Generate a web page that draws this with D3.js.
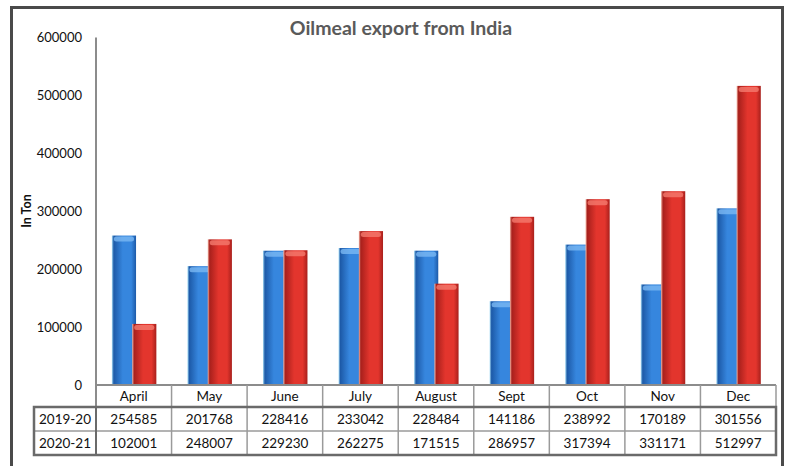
<!DOCTYPE html>
<html>
<head>
<meta charset="utf-8">
<script src="https://cdn.jsdelivr.net/npm/d3@7"></script>
<style>
  html, body { margin: 0; padding: 0; background: #fff; }
  svg { display: block; font-family: Lato, "Open Sans", "Liberation Sans", sans-serif; }
</style>
</head>
<body>
<svg id="chart" width="789" height="466"></svg>
<script>
// Oilmeal exports from India, tonnes per month
const months = ["April", "May", "June", "July", "August", "Sept", "Oct", "Nov", "Dec"];
const seriesNames = ["2019-20", "2020-21"];
const values2019 = [254585, 201768, 228416, 233042, 228484, 141186, 238992, 170189, 301556];
const values2020 = [102001, 248007, 229230, 262275, 171515, 286957, 317394, 331171, 512997];
const yTicks = [0, 100000, 200000, 300000, 400000, 500000, 600000];

const series = [
  { name: seriesNames[0], values: values2019, dark: "#1d5aa8", mid: "#3686de", light: "#7ab8f2", edge: "#a8dcf5" },
  { name: seriesNames[1], values: values2020, dark: "#a8201c", mid: "#e3352d", light: "#f47a6e", edge: "#f4b8a8" }
];

const svg = d3.select("#chart");
const plotLeft = 96, plotRight = 776, plotTop = 37.5, plotBottom = 385;

const x = d3.scaleBand().domain(months).range([plotLeft, plotRight]).padding(0);
const y = d3.scaleLinear().domain([0, 600000]).range([plotBottom, plotTop]);

// outer frame
svg.append("rect")
  .attr("x", 11.5).attr("y", 7.5)
  .attr("width", 771).attr("height", 480)
  .attr("fill", "none").attr("stroke", "#4a4a4a").attr("stroke-width", 3);

// title
svg.append("text")
  .attr("x", 401).attr("y", 35)
  .attr("text-anchor", "middle")
  .attr("font-size", 19.5).attr("font-weight", "bold")
  .attr("fill", "#5a5a5a")
  .text("Oilmeal export from India");

// y-axis title
svg.append("text")
  .attr("transform", "translate(31,211) rotate(-90)")
  .attr("text-anchor", "middle")
  .attr("font-size", 12.5).attr("font-weight", "bold")
  .attr("fill", "#111")
  .text("In Ton");

// y tick labels
svg.append("g").selectAll("text").data(yTicks).join("text")
  .attr("x", 82).attr("y", d => y(d)).attr("dy", "0.35em")
  .attr("text-anchor", "end").attr("font-size", 13).attr("fill", "#111")
  .text(d => d);

// cylinder-like gradients for each series
const defs = svg.append("defs");
series.forEach((s, i) => {
  const g = defs.append("linearGradient").attr("id", "grad" + i)
    .attr("x1", "0%").attr("x2", "100%").attr("y1", "0%").attr("y2", "0%");
  g.append("stop").attr("offset", "0%").attr("stop-color", s.edge);
  g.append("stop").attr("offset", "8%").attr("stop-color", s.dark);
  g.append("stop").attr("offset", "45%").attr("stop-color", s.mid);
  g.append("stop").attr("offset", "80%").attr("stop-color", s.mid);
  g.append("stop").attr("offset", "100%").attr("stop-color", s.dark);
});

// bars
const bw = x.bandwidth() * 0.32;
const offsets = [x.bandwidth() * 0.21, x.bandwidth() * 0.21 + bw * 0.84];
series.forEach((s, i) => {
  const g = svg.append("g");
  const rows = months.map((m, j) => ({ m, v: s.values[j] }));
  g.selectAll("rect.bar").data(rows).join("rect")
    .attr("class", "bar")
    .attr("x", d => x(d.m) + offsets[i])
    .attr("y", d => y(d.v) - 2)
    .attr("width", bw)
    .attr("height", d => y(0) - y(d.v) + 2)
    .attr("fill", `url(#grad${i})`);
  // highlight cap at the top of each bar
  g.selectAll("rect.cap").data(rows).join("rect")
    .attr("class", "cap")
    .attr("x", d => x(d.m) + offsets[i] + 2)
    .attr("y", d => y(d.v) - 1)
    .attr("width", bw - 4)
    .attr("height", 5)
    .attr("rx", 2.5)
    .attr("fill", s.light).attr("opacity", 0.8);
});

// axis lines
svg.append("line").attr("x1", plotLeft).attr("x2", plotLeft).attr("y1", plotTop).attr("y2", 455)
  .attr("stroke", "#8c8c8c").attr("stroke-width", 2);
svg.append("line").attr("x1", plotLeft).attr("x2", plotRight).attr("y1", plotBottom).attr("y2", plotBottom)
  .attr("stroke", "#8c8c8c").attr("stroke-width", 2);

// data table beneath the axis
const rowTop = [385, 407, 431];
const rowBot = [407, 431, 455];
const tableLeft = 34;
const grid = svg.append("g").attr("stroke", "#9a9a9a").attr("stroke-width", 1.5);
// vertical separators between months
months.forEach((m) => {
  grid.append("line").attr("x1", x(m) + x.bandwidth()).attr("x2", x(m) + x.bandwidth())
    .attr("y1", plotBottom).attr("y2", 455);
});
// horizontal separators
grid.append("line").attr("x1", plotLeft).attr("x2", plotRight).attr("y1", 407).attr("y2", 407);
grid.append("line").attr("x1", tableLeft).attr("x2", plotRight).attr("y1", 431).attr("y2", 431);

// darker outline around the value rows
svg.append("rect")
  .attr("x", tableLeft).attr("y", 407)
  .attr("width", plotRight - tableLeft).attr("height", 48)
  .attr("fill", "none").attr("stroke", "#6a6a6a").attr("stroke-width", 2.5);
svg.append("line").attr("x1", plotLeft).attr("x2", plotLeft).attr("y1", 407).attr("y2", 455)
  .attr("stroke", "#6a6a6a").attr("stroke-width", 2);

// month headers
svg.append("g").selectAll("text").data(months).join("text")
  .attr("x", d => x(d) + x.bandwidth() / 2).attr("y", 396).attr("dy", "0.35em")
  .attr("text-anchor", "middle").attr("font-size", 13.5).attr("fill", "#111")
  .text(d => d);

// value rows
series.forEach((s, i) => {
  const cy = (rowTop[i + 1] + rowBot[i + 1]) / 2;
  svg.append("text")
    .attr("x", (tableLeft + plotLeft) / 2).attr("y", cy).attr("dy", "0.35em")
    .attr("text-anchor", "middle").attr("font-size", 13.5).attr("fill", "#111")
    .text(s.name);
  svg.append("g").selectAll("text").data(months).join("text")
    .attr("x", d => x(d) + x.bandwidth() / 2).attr("y", cy).attr("dy", "0.35em")
    .attr("text-anchor", "middle").attr("font-size", 13.5).attr("fill", "#111")
    .text((d, j) => s.values[j]);
});
</script>
</body>
</html>
